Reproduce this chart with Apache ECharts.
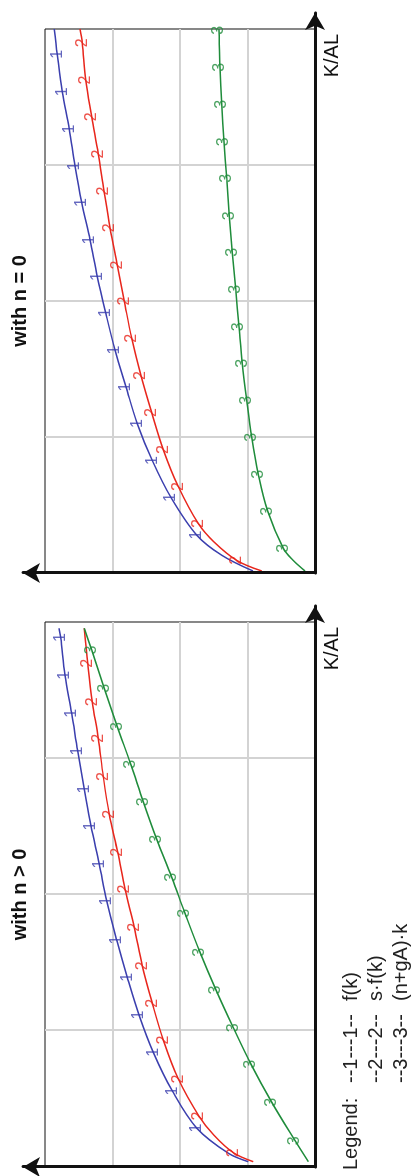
<!DOCTYPE html>
<html><head><meta charset="utf-8">
<style>
html,body{margin:0;padding:0;width:416px;height:1176px;overflow:hidden;background:#fff;}
#chart{position:absolute;left:0;top:0;width:1176px;height:416px;transform-origin:0 0;transform:translate(0px,1176px) rotate(-90deg);}
</style>
<script src="https://cdn.jsdelivr.net/npm/echarts@6/dist/echarts.min.js"></script>
</head><body><div id="chart"></div>
<script>
// ---------- data (k = K/AL, v = value) ----------
const kMin = 0, kMax = 4, kStep = 1;
const vMin = 0, vMax = 4, vStep = 1;
const panelTitles = ['with n > 0', 'with n = 0'];
const axisName = 'K/AL';
const legendHead = 'Legend:';
const legendMarks = ['--1---1--', '--2---2--', '--3---3--'];
const legendNames = ['f(k)', 's\u00b7f(k)', '(n+gA)\u00b7k'];
const markDigits = ['1', '2', '3'];

// panel "with n > 0"
const posF_marks = [[0.286,1.753],[0.558,2.114],[0.842,2.396],[1.116,2.607],[1.392,2.781],[1.666,2.938],[1.952,3.086],[2.224,3.196],[2.503,3.319],[2.774,3.418],[3.053,3.516],[3.330,3.604],[3.609,3.704],[3.885,3.767]];
const posF_ends  = [[0.039,0.988],[0.101,1.284],[3.954,3.793]];
const posS_marks = [[0.105,1.210],[0.374,1.719],[0.646,2.025],[0.932,2.247],[1.201,2.410],[1.477,2.559],[1.759,2.677],[2.040,2.815],[2.310,2.923],[2.589,3.047],[2.865,3.136],[3.146,3.210],[3.415,3.299],[3.697,3.367]];
const posS_ends  = [[0.039,0.914],[0.235,1.500],[3.954,3.418]];
const posG_marks = [[0.193,0.296],[0.475,0.641],[0.754,0.948],[1.022,1.210],[1.299,1.467],[1.576,1.704],[1.862,1.926],[2.126,2.123],[2.405,2.345],[2.681,2.544],[2.956,2.730],[3.232,2.929],[3.513,3.121],[3.794,3.308]];
const posG_ends  = [[0.039,0.099],[3.954,3.418]];

// panel "with n = 0"
const zeroF_marks = [[0.279,1.753],[0.554,2.133],[0.826,2.410],[1.098,2.633],[1.368,2.800],[1.640,2.963],[1.914,3.101],[2.179,3.225],[2.449,3.333],[2.723,3.456],[2.993,3.556],[3.265,3.640],[3.539,3.744],[3.814,3.818]];
const zeroF_ends  = [[0.015,0.919],[0.130,1.380],[4.000,3.862]];
const zeroS_marks = [[0.093,1.160],[0.363,1.729],[0.635,2.025],[0.907,2.247],[1.179,2.419],[1.451,2.578],[1.726,2.716],[2.000,2.825],[2.265,2.929],[2.539,3.037],[2.809,3.126],[3.081,3.210],[3.355,3.308],[3.625,3.397],[3.899,3.447]];
const zeroS_ends  = [[0.015,0.790],[0.230,1.500],[4.000,3.481]];
const zeroG_marks = [[0.182,0.470],[0.454,0.701],[0.726,0.840],[0.998,0.938],[1.270,1.012],[1.542,1.077],[1.811,1.126],[2.086,1.175],[2.358,1.225],[2.627,1.270],[2.902,1.308],[3.171,1.348],[3.446,1.382],[3.718,1.407],[3.990,1.422]];
const zeroG_ends  = [[0.015,0.148],[0.096,0.330],[4.000,1.423]];

// ---------- styling / layout ----------
const FONT = '"Liberation Sans", Arial, Helvetica, sans-serif';
const colors = ['#3b3fae', '#e8261c', '#1f8c3b'];
const panels = [
  {left: 9,   width: 545, marks: [posF_marks, posS_marks, posG_marks],   ends: [posF_ends, posS_ends, posG_ends]},
  {left: 603, width: 544, marks: [zeroF_marks, zeroS_marks, zeroG_marks], ends: [zeroF_ends, zeroS_ends, zeroG_ends]}
];
const plotTop = 45, plotH = 270;

const grids = [], xAxes = [], yAxes = [], series = [], graphics = [];
panels.forEach((p, i) => {
  grids.push({left: p.left, top: plotTop, width: p.width, height: plotH, show: true,
    borderColor: '#111', borderWidth: 1, backgroundColor: 'transparent', containLabel: false});
  const splitLine = {show: true, showMinLine: false, showMaxLine: false, lineStyle: {color: '#d3d3d3', width: 2}};
  xAxes.push({gridIndex: i, type: 'value', min: kMin, max: kMax, interval: kStep,
    axisLine: {show: false}, axisTick: {show: false}, axisLabel: {show: false}, splitLine});
  yAxes.push({gridIndex: i, type: 'value', min: vMin, max: vMax, interval: vStep,
    axisLine: {show: false}, axisTick: {show: false}, axisLabel: {show: false}, splitLine});
  p.marks.forEach((m, s) => {
    const line = m.concat(p.ends[s]).sort((a, b) => a[0] - b[0]);
    series.push({type: 'line', xAxisIndex: i, yAxisIndex: i, data: line, smooth: 0.35,
      symbol: 'none', showSymbol: false, silent: true, lineStyle: {color: colors[s], width: 1.5}, z: 3});
    series.push({type: 'scatter', xAxisIndex: i, yAxisIndex: i, data: m, symbol: 'circle', symbolSize: 1,
      silent: true, itemStyle: {color: 'transparent'}, z: 4,
      label: {show: true, position: 'inside', formatter: markDigits[s], color: colors[s], fontSize: 16,
        fontFamily: FONT, textBorderWidth: 0, textBorderColor: 'transparent'}});
  });
  // titles
  graphics.push({type: 'text', x: p.left + p.width / 2, y: 20, silent: true,
    style: {text: panelTitles[i], fill: '#111', font: 'bold 20px ' + FONT, align: 'center', textAlign: 'center', verticalAlign: 'middle', textVerticalAlign: 'middle'}});
  // axis name
  graphics.push({type: 'text', x: p.left + p.width - 5, y: 332, silent: true,
    style: {text: axisName, fill: '#111', font: '20px ' + FONT, align: 'right', textAlign: 'right', verticalAlign: 'middle', textVerticalAlign: 'middle'}});
});
// arrow axes grids
panels.forEach((p, i) => {
  grids.push({left: p.left, top: 23, width: p.width + 16, height: plotH + (plotTop - 23), show: false, containLabel: false});
  const axisLine = {show: true, onZero: false, symbol: ['none', 'arrow'], symbolSize: [15, 17], lineStyle: {color: '#111', width: 3}};
  xAxes.push({gridIndex: 2 + i, type: 'value', min: 0, max: 1, axisLine, axisTick: {show: false}, axisLabel: {show: false}, splitLine: {show: false}, z: 5});
  yAxes.push({gridIndex: 2 + i, type: 'value', min: 0, max: 1, axisLine, axisTick: {show: false}, axisLabel: {show: false}, splitLine: {show: false}, z: 5});
});
// legend text
const legendY = [351, 376, 401];
graphics.push({type: 'text', x: 6, y: legendY[0], silent: true,
  style: {text: legendHead, fill: '#222', font: '20px ' + FONT, align: 'left', textAlign: 'left', verticalAlign: 'middle', textVerticalAlign: 'middle'}});
legendMarks.forEach((t, j) => {
  graphics.push({type: 'text', x: 93, y: legendY[j], silent: true,
    style: {text: t, fill: '#222', font: '20px ' + FONT, align: 'left', textAlign: 'left', verticalAlign: 'middle', textVerticalAlign: 'middle'}});
  graphics.push({type: 'text', x: 175, y: legendY[j], silent: true,
    style: {text: legendNames[j], fill: '#222', font: '20px ' + FONT, align: 'left', textAlign: 'left', verticalAlign: 'middle', textVerticalAlign: 'middle'}});
});

const chart = echarts.init(document.getElementById('chart'), null, {renderer: 'canvas', width: 1176, height: 416});
chart.setOption({
  animation: false,
  backgroundColor: '#fff',
  grid: grids, xAxis: xAxes, yAxis: yAxes, series: series, graphic: graphics
});
</script></body></html>
